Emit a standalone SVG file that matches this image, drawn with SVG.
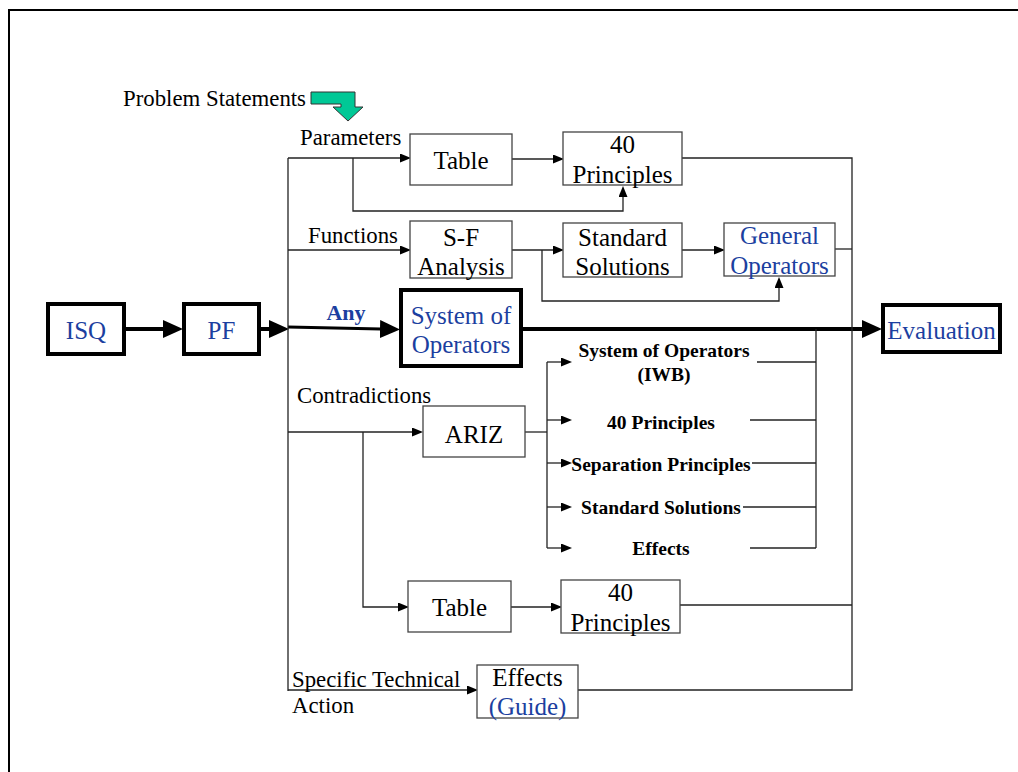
<svg xmlns="http://www.w3.org/2000/svg" width="1018" height="772" viewBox="0 0 1018 772">
<style>
.bx{fill:#fff;stroke:#444;stroke-width:1.3}
.bk{fill:#fff;stroke:#000;stroke-width:4}
.ln{fill:none;stroke:#222;stroke-width:1.3}
.lk{fill:none;stroke:#000;stroke-width:4}
.t{font-family:"Liberation Serif","Times New Roman",serif;font-size:25px;fill:#000;text-anchor:middle}
.tb{fill:#1c3fa0}
.l{font-family:"Liberation Serif","Times New Roman",serif;font-size:22.8px;fill:#000}
.b{font-family:"Liberation Serif","Times New Roman",serif;font-size:19.5px;font-weight:bold;fill:#000;text-anchor:middle}
</style>
<defs>
<marker id="at" markerWidth="11" markerHeight="9" refX="1" refY="4.5" orient="auto" markerUnits="userSpaceOnUse"><path d="M0,0 L11,4.5 L0,9 z" fill="#000"/></marker>
<marker id="aT" markerWidth="20" markerHeight="18" refX="1" refY="9" orient="auto" markerUnits="userSpaceOnUse"><path d="M0,0 L20,9 L0,18 z" fill="#000"/></marker>
</defs>
<rect x="9" y="10" width="1030" height="790" fill="none" stroke="#000" stroke-width="2"/>

<g id="connectors">
<line class="lk" x1="126" y1="329" x2="164" y2="329" marker-end="url(#aT)"/>
<line class="lk" x1="261" y1="329" x2="270" y2="329" marker-end="url(#aT)"/>
<line x1="288" y1="327" x2="381" y2="329" stroke="#000" stroke-width="3" marker-end="url(#aT)"/>
<line class="lk" x1="523" y1="329" x2="863" y2="329" marker-end="url(#aT)"/>
<path class="ln" d="M288,158 V691"/>
<path class="ln" d="M288,158 H401" marker-end="url(#at)"/>
<path class="ln" d="M353,158 V211 H623 V196" marker-end="url(#at)"/>
<path class="ln" d="M512,159 H554" marker-end="url(#at)"/>
<path class="ln" d="M682,158 H852 V690 H578"/>
<path class="ln" d="M288,250 H401" marker-end="url(#at)"/>
<path class="ln" d="M512,250 H554" marker-end="url(#at)"/>
<path class="ln" d="M542,250 V301 H779 V287" marker-end="url(#at)"/>
<path class="ln" d="M682,250 H715" marker-end="url(#at)"/>
<path class="ln" d="M835,249 H852"/>
<path class="ln" d="M288,432 H413" marker-end="url(#at)"/>
<path class="ln" d="M525,432 H547"/>
<path class="ln" d="M547,362 V548"/>
<path class="ln" d="M547,362 H562" marker-end="url(#at)"/>
<path class="ln" d="M547,420 H562" marker-end="url(#at)"/>
<path class="ln" d="M547,463 H562" marker-end="url(#at)"/>
<path class="ln" d="M547,507 H562" marker-end="url(#at)"/>
<path class="ln" d="M547,548 H562" marker-end="url(#at)"/>
<path class="ln" d="M816,329 V548"/>
<path class="ln" d="M757,362 H816"/>
<path class="ln" d="M750,420 H816"/>
<path class="ln" d="M752,463 H816"/>
<path class="ln" d="M743,507 H816"/>
<path class="ln" d="M750,548 H816"/>
<path class="ln" d="M363,432 V607 H399" marker-end="url(#at)"/>
<path class="ln" d="M511,607 H552" marker-end="url(#at)"/>
<path class="ln" d="M680,605 H852"/>
<path class="ln" d="M288,690 H468" marker-end="url(#at)"/>
</g>

<g id="problem-statements">
<text class="l" x="123" y="106">Problem Statements</text>
<polygon points="311,92 355,92 355,107 363,107 348,121 333,107 341,107 341,104 311,104" fill="#00c896" stroke="#333" stroke-width="1"/>
</g>
<g id="label-parameters"><text class="l" x="300" y="145">Parameters</text></g>
<g id="label-functions"><text class="l" x="308" y="243">Functions</text></g>
<g id="label-any"><text x="346" y="320" style="font-family:'Liberation Serif','Times New Roman',serif;font-size:22px;font-weight:bold;fill:#1c3fa0;text-anchor:middle">Any</text></g>
<g id="label-contradictions"><text class="l" x="297" y="403">Contradictions</text></g>
<g id="label-specific"><text class="l" x="292" y="687">Specific Technical</text><text class="l" x="292" y="713">Action</text></g>

<g id="isq"><rect class="bk" x="48" y="304" width="76" height="50"/><text class="t tb" x="86" y="339">ISQ</text></g>
<g id="pf"><rect class="bk" x="184" y="304" width="75" height="50"/><text class="t tb" x="221.5" y="339">PF</text></g>
<g id="system-of-operators"><rect class="bk" x="401" y="290" width="120" height="76"/><text class="t tb" x="461" y="324">System of</text><text class="t tb" x="461" y="353">Operators</text></g>
<g id="evaluation"><rect class="bk" x="883" y="305" width="117" height="47"/><text class="t tb" x="941.5" y="339">Evaluation</text></g>

<g id="table1"><rect class="bx" x="410" y="134" width="102" height="51"/><text class="t" x="461" y="169">Table</text></g>
<g id="principles1"><rect class="bx" x="563" y="132" width="119" height="53"/><text class="t" x="622.5" y="153">40</text><text class="t" x="622.5" y="183">Principles</text></g>
<g id="sf-analysis"><rect class="bx" x="410" y="221" width="102" height="57"/><text class="t" x="461" y="246">S-F</text><text class="t" x="461" y="275">Analysis</text></g>
<g id="standard-solutions"><rect class="bx" x="563" y="223" width="119" height="54"/><text class="t" x="622.5" y="246">Standard</text><text class="t" x="622.5" y="275">Solutions</text></g>
<g id="general-operators"><rect class="bx" x="724" y="223" width="111" height="53"/><text class="t tb" x="779.5" y="244">General</text><text class="t tb" x="779.5" y="274">Operators</text></g>
<g id="ariz"><rect class="bx" x="423" y="406" width="102" height="51"/><text class="t" x="474" y="443">ARIZ</text></g>

<g id="ariz-list">
<text class="b" x="664" y="357">System of Operators</text>
<text class="b" x="664" y="381">(IWB)</text>
<text class="b" x="661" y="429">40 Principles</text>
<text class="b" x="661" y="471">Separation Principles</text>
<text class="b" x="661" y="514">Standard Solutions</text>
<text class="b" x="661" y="555">Effects</text>
</g>

<g id="table2"><rect class="bx" x="408" y="581" width="103" height="51"/><text class="t" x="459.5" y="616">Table</text></g>
<g id="principles2"><rect class="bx" x="561" y="580" width="119" height="53"/><text class="t" x="620.5" y="601">40</text><text class="t" x="620.5" y="631">Principles</text></g>
<g id="effects-guide"><rect class="bx" x="477" y="665" width="101" height="53"/><text class="t" x="527.5" y="686">Effects</text><text class="t tb" x="527.5" y="715">(Guide)</text></g>
</svg>
